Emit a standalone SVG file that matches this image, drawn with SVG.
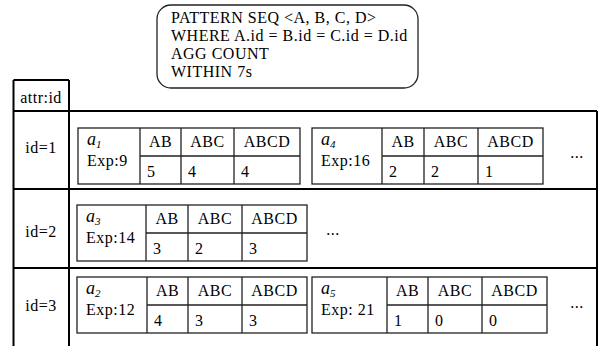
<svg xmlns="http://www.w3.org/2000/svg" width="602" height="346" viewBox="0 0 602 346">
<style>
.frame{stroke:#000;stroke-width:2;fill:none}
.rec{fill:#fff;stroke:#222;stroke-width:1.3}
.ln{stroke:#222;stroke-width:1.3;fill:none}
.t{font-family:"Liberation Serif","Times New Roman",serif;font-size:16px;letter-spacing:0.5px;fill:#000}
.h{text-anchor:middle}
.it{font-family:"Liberation Serif","Times New Roman",serif;font-style:italic;font-size:18px;fill:#000}
.sub{font-size:11px}
</style>
<rect width="602" height="346" fill="#fff"/>

<g id="query">
<rect x="157" y="5" width="261" height="83" rx="14" ry="14" fill="#fff" stroke="#222" stroke-width="1.3"/>
<text class="t" x="171" y="23">PATTERN SEQ &lt;A, B, C, D&gt;</text>
<text class="t" x="171" y="41">WHERE A.id = B.id = C.id = D.id</text>
<text class="t" x="171" y="59">AGG COUNT</text>
<text class="t" x="171" y="77">WITHIN 7s</text>
</g>

<g id="frame">
<path class="frame" d="M13.5 80 V346 M13.5 80 H69 M69 80 V346 M13.5 111 H597 M597 111 V346 M13.5 189 H597 M13.5 268 H597"/>
<text class="t h" x="41" y="103" letter-spacing="0.9">attr:id</text>
</g>

<g id="row-id1"><text class="t h" x="41" y="153" letter-spacing="1.2">id=1</text></g>
<g id="row-id2"><text class="t h" x="41" y="237" letter-spacing="1.2">id=2</text></g>
<g id="row-id3"><text class="t h" x="41" y="311" letter-spacing="1.2">id=3</text></g>

<g id="rec-a1">
<rect class="rec" x="78" y="128" width="222" height="56"/>
<path class="ln" d="M140 128V184M181 128V184M234 128V184M140 156H300"/>
<text class="it" x="87" y="145">a<tspan class="sub" dy="3">1</tspan></text>
<text class="t" x="87" y="166">Exp:9</text>
<text class="t h" x="160.5" y="147">AB</text><text class="t h" x="207.5" y="147">ABC</text><text class="t h" x="267" y="147">ABCD</text>
<text class="t" x="147" y="177">5</text><text class="t" x="188" y="177">4</text><text class="t" x="241" y="177">4</text>
</g>

<g id="rec-a4">
<rect class="rec" x="312" y="128" width="231" height="56"/>
<path class="ln" d="M382 128V184M424 128V184M478 128V184M382 156H543"/>
<text class="it" x="321" y="145">a<tspan class="sub" dy="3">4</tspan></text>
<text class="t" x="321" y="166">Exp:16</text>
<text class="t h" x="403" y="147">AB</text><text class="t h" x="451" y="147">ABC</text><text class="t h" x="510.5" y="147">ABCD</text>
<text class="t" x="389" y="177">2</text><text class="t" x="431" y="177">2</text><text class="t" x="485" y="177">1</text>
</g>
<g id="more-1"><text class="t h" x="577" y="158" letter-spacing="1">...</text></g>

<g id="rec-a3">
<rect class="rec" x="77" y="205" width="230" height="56"/>
<path class="ln" d="M146 205V261M188 205V261M242 205V261M146 233H307"/>
<text class="it" x="86" y="222">a<tspan class="sub" dy="3">3</tspan></text>
<text class="t" x="86" y="243">Exp:14</text>
<text class="t h" x="167" y="224">AB</text><text class="t h" x="215" y="224">ABC</text><text class="t h" x="274.5" y="224">ABCD</text>
<text class="t" x="153" y="254">3</text><text class="t" x="195" y="254">2</text><text class="t" x="249" y="254">3</text>
</g>
<g id="more-2"><text class="t h" x="333" y="235" letter-spacing="1">...</text></g>

<g id="rec-a2">
<rect class="rec" x="77" y="277" width="230" height="56"/>
<path class="ln" d="M147 277V333M188 277V333M242 277V333M147 305H307"/>
<text class="it" x="86" y="294">a<tspan class="sub" dy="3">2</tspan></text>
<text class="t" x="86" y="315">Exp:12</text>
<text class="t h" x="167.5" y="296">AB</text><text class="t h" x="215" y="296">ABC</text><text class="t h" x="274.5" y="296">ABCD</text>
<text class="t" x="154" y="326">4</text><text class="t" x="195" y="326">3</text><text class="t" x="249" y="326">3</text>
</g>

<g id="rec-a5">
<rect class="rec" x="312" y="277" width="235" height="56"/>
<path class="ln" d="M387 277V333M428 277V333M482 277V333M387 305H547"/>
<text class="it" x="321" y="294">a<tspan class="sub" dy="3">5</tspan></text>
<text class="t" x="321" y="315">Exp: 21</text>
<text class="t h" x="407.5" y="296">AB</text><text class="t h" x="455" y="296">ABC</text><text class="t h" x="514.5" y="296">ABCD</text>
<text class="t" x="394" y="326">1</text><text class="t" x="435" y="326">0</text><text class="t" x="489" y="326">0</text>
</g>
<g id="more-3"><text class="t h" x="577" y="308" letter-spacing="1">...</text></g>
</svg>
